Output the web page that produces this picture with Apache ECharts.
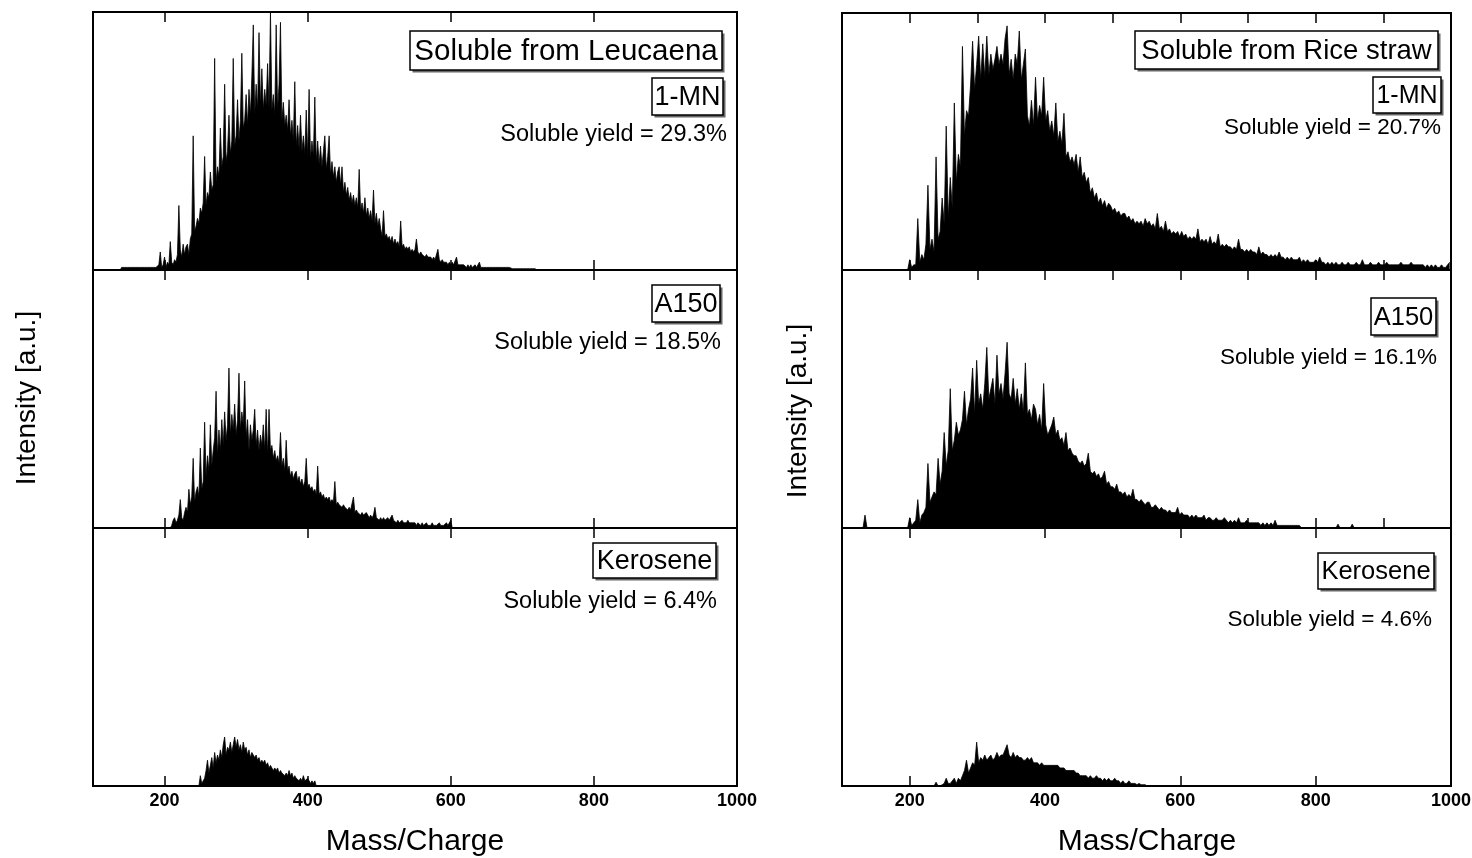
<!DOCTYPE html>
<html><head><meta charset="utf-8">
<script src="https://cdn.jsdelivr.net/npm/echarts@6/dist/echarts.min.js"></script>
<style>html,body{margin:0;padding:0;background:#fff}#c{width:1472px;height:858px}</style>
</head><body><div id="c"></div>
<script>
// ---------------- DATA (m/z grid: start + i*step; intensities in % of panel height) ----------------
const leucaena1MNStart = 138, leucaena1MNStep = 2;
const leucaena1MN = [0,
 1,1,1,1,1,1,1,1,1,1,1,1,1,1,1,1,1,1,1,1,1,1,1,1,1,1,
 2,7,1,2,5,1,3,2,11,3,
 2,4,3,6,25,8,5,10,6,9,
 10,6,12,14,52,15,17,20,18,24,
 22,26,44,25,30,28,38,31,33,82,
 34,40,36,55,40,44,72,42,46,60,
 45,50,82,48,52,66,50,58,84,55,
 58,68,56,70,60,75,95,60,72,62,
 92,64,78,62,70,64,80,63,100,62,
 68,60,95,62,72,96,58,65,56,60,
 54,66,52,58,50,73,48,56,47,60,
 46,52,45,62,44,70,43,50,44,67,
 42,50,41,48,40,46,52,39,44,52,
 37,42,36,40,34,38,40,33,40,30,
 34,29,32,27,30,26,29,25,28,24,
 39,23,26,22,28,21,24,20,23,19,
 31,18,22,17,20,16,13,23,13,14,
 12,13,11,13,10,12,10,11,9,19,
 9,10,8,9,8,9,7,8,7,8,
 12,7,6,7,6,6,5,6,5,5,
 5,4,5,4,4,8,4,3,4,3,
 3,3,2,3,2,3,2,2,5,2,
 2,2,2,2,2,1,2,1,2,1,
 1,2,1,1,3,1,1,1,1,1,
 1,1,1,1,1,1,1,1,1,1,
 1,1,0.5,1,0.5,1,0.5,0.5,1,0.5,
 0.5,0.5,0.5,0.5,0.5,0.5,0.5,0.5,1,0.5,0.5,0.5,0.5,0.5,0];

const leucaenaA150Start = 208, leucaenaA150Step = 2;
const leucaenaA150 = [0,
 1,3,4,2,3,5,11,4,3,6,
 8,6,15,9,12,27,10,14,16,12,
 31,15,18,41,20,28,22,40,24,30,
 35,53,28,38,30,42,32,45,34,40,
 62,36,44,38,48,36,42,60,38,45,
 40,57,35,42,30,40,34,38,46,32,
 38,30,36,32,40,30,46,28,46,30,
 32,27,30,26,28,25,37,24,27,22,
 34,22,24,20,22,19,21,22,18,20,
 17,19,16,18,27,16,17,15,16,14,
 15,13,24,13,14,12,13,11,12,11,
 12,10,11,10,18,9,10,9,9,8,
 9,8,8,7,8,7,7,12,6,7,
 6,6,5,6,5,5,6,5,4,5,
 4,5,8,4,4,3,4,3,4,3,
 3,4,3,3,5,3,3,2,3,2,
 2,3,2,2,2,3,2,2,2,2,
 2,1,2,2,1,2,1,1,2,1,
 1,1,2,1,1,1,1,2,1,1,
 1,1,2,1,1,3,0];

const leucaenaKeroseneStart = 248, leucaenaKeroseneStep = 2;
const leucaenaKerosene = [0,
 4,1,2,3,6,10,5,8,11,7,
 13,9,12,10,14,11,16,19,12,15,
 14,17,13,16,19,15,18,14,16,13,
 17,14,15,12,14,11,13,12,11,12,
 10,11,9,10,9,10,8,9,7,8,
 7,6,7,6,7,5,6,5,5,4,
 5,4,6,4,5,3,4,3,3,2,
 3,2,4,2,2,3,2,1,2,1,2,0];

const rice1MNStart = 197, rice1MNStep = 3;
const rice1MN = [
 0,4,1,2,2,20,3,6,4,10,
 33,8,12,7,44,12,15,28,18,56,
 20,36,24,65,34,45,40,87,52,62,
 60,72,89,70,80,91,74,88,75,91,
 76,84,78,82,87,80,84,80,90,95,
 76,82,74,84,80,93,74,80,86,60,
 56,66,56,75,58,64,60,75,58,62,
 54,58,52,65,50,54,49,61,44,46,
 42,44,41,45,38,44,36,38,34,36,
 30,32,28,30,26,28,25,27,24,26,
 25,23,24,22,23,21,22,22,20,21,
 19,20,18,19,18,19,17,20,18,19,
 17,18,16,22,16,17,15,19,15,16,
 14,15,14,15,13,15,13,14,12,13,
 12,13,12,16,11,12,11,12,10,13,
 10,11,10,14,9,10,9,10,9,9,
 8,9,8,12,8,8,7,8,7,8,
 7,7,6,9,6,7,6,6,5,6,
 5,6,5,7,5,5,4,5,4,5,
 4,4,4,5,3,4,3,4,3,3,
 3,4,3,5,3,3,2,3,2,3,
 2,3,2,2,3,2,2,3,2,2,
 2,3,2,2,4,2,2,2,3,2,
 2,2,3,2,2,2,3,2,2,2,
 2,2,2,3,2,2,2,2,3,2,
 2,2,2,2,2,1,2,1,2,1,
 2,1,1,2,1,1,2,3];

const riceA150Start = 131, riceA150Step = 3;
const riceA150 = [
 0,5,0,0,0,0,0,0,0,0,0,0,0,0,0,0,0,0,0,0,0,0,0,
 4,1,2,3,11,2,5,6,8,25,
 10,12,14,13,27,17,22,37,24,30,
 54,30,34,41,36,38,42,53,40,46,
 50,62,44,65,48,52,46,56,70,50,
 54,58,48,67,52,56,50,60,72,52,
 50,58,48,54,46,52,45,64,44,46,
 42,48,46,40,44,38,56,40,36,38,
 40,43,36,38,34,35,32,37,30,31,
 29,28,28,26,25,26,24,25,29,22,
 21,22,20,21,19,20,22,17,18,16,
 16,15,17,14,14,13,14,12,13,12,
 15,11,11,10,11,10,9,10,10,8,
 8,9,8,7,8,7,7,6,7,6,
 6,6,8,5,6,5,5,5,4,5,
 4,5,4,4,4,5,3,4,4,3,
 3,4,3,3,3,4,3,2,3,2,
 3,2,4,2,2,2,3,2,2,2,
 2,2,2,1,2,1,2,1,2,1,
 3,1,1,1,1,1,1,1,1,1,
 1,1,1,0,0,0,0,0,0,0,
 0,0,0,0,0,0,0,0,0,0,
 0,1.5,0,0,0,0,0,0,1.5,0];

const riceKeroseneStart = 236, riceKeroseneStep = 3;
const riceKerosene = [
 0,1.5,0,0,0.5,1,3,1,1,2,
 3,1,3,2,4,6,10,5,7,9,
 8,17,9,11,10,12,10,11,12,10,
 11,13,11,12,12,14,16,12,11,13,
 11,12,11,11,10,10,11,10,11,9,
 9,9,8,9,8,8,8,8,8,8,
 8,8,7,7,7,6,6,6,6,6,
 5,5,4,4,4,4,3,4,3,3,
 4,3,3,2,3,2,3,2,2,3,
 2,2,1,2,1,1,2,1,1,1,
 0.5,1,0.5,0.5,0.5,0];

const ticks200 = [200, 400, 600, 800];
const ticks100 = [200, 300, 400, 500, 600, 700, 800, 900];
const tickLabels = [200, 400, 600, 800, 1000];

const boxLabels = ['1-MN', 'A150', 'Kerosene', '1-MN', 'A150', 'Kerosene'];
const yieldTexts = ['Soluble yield = 29.3%', 'Soluble yield = 18.5%', 'Soluble yield = 6.4%',
                    'Soluble yield = 20.7%', 'Soluble yield = 16.1%', 'Soluble yield = 4.6%'];
const titles = ['Soluble from Leucaena', 'Soluble from Rice straw'];
const xName = 'Mass/Charge';
const yName = 'Intensity [a.u.]';

// ---------------- CHART ----------------
const FONT = "'Liberation Sans', Arial, sans-serif";
const toPairs = (start, step, vals) => vals.map((v, i) => [start + i * step, v]);
const panelsData = [
  toPairs(leucaena1MNStart, leucaena1MNStep, leucaena1MN),
  toPairs(leucaenaA150Start, leucaenaA150Step, leucaenaA150),
  toPairs(leucaenaKeroseneStart, leucaenaKeroseneStep, leucaenaKerosene),
  toPairs(rice1MNStart, rice1MNStep, rice1MN),
  toPairs(riceA150Start, riceA150Step, riceA150),
  toPairs(riceKeroseneStart, riceKeroseneStep, riceKerosene)
];

const gridBoxes = [
  {left: 93, top: 12, width: 644, height: 258},
  {left: 93, top: 270, width: 644, height: 258},
  {left: 93, top: 528, width: 644, height: 258},
  {left: 842, top: 13, width: 609, height: 257},
  {left: 842, top: 270, width: 609, height: 258},
  {left: 842, top: 528, width: 609, height: 258}
];
// [top ticks, bottom ticks]
const panelTicks = [
  [ticks200, ticks200], [ticks200, ticks200], [ticks200, ticks200],
  [ticks100, ticks100], [ticks100, ticks100], [ticks200, ticks200]
];

const grid = gridBoxes.map(g => Object.assign({
  show: true, borderColor: '#000', borderWidth: 2, backgroundColor: 'transparent',
  containLabel: false, outerBoundsMode: 'none'
}, g));

const xAxis = [];
const yAxis = [];
const series = [];
gridBoxes.forEach((g, i) => {
  const isBottom = (i === 2 || i === 5);
  ['bottom', 'top'].forEach(pos => {
    const tv = pos === 'top' ? panelTicks[i][0] : panelTicks[i][1];
    xAxis.push({
      type: 'value', gridIndex: i, position: pos, min: 100, max: 1000,
      axisLine: {show: false},
      splitLine: {show: false},
      axisTick: {show: true, inside: true, length: 10, customValues: tv,
                 lineStyle: {color: '#000', width: 1.5}},
      axisLabel: (pos === 'bottom' && isBottom) ? {
        show: true, customValues: tickLabels, color: '#000', fontFamily: FONT,
        fontSize: 18, fontWeight: 'bold', margin: 6, formatter: v => String(v)
      } : {show: false}
    });
  });
  yAxis.push({type: 'value', gridIndex: i, min: 0, max: 100, show: false});
  series.push({
    type: 'line', xAxisIndex: 2 * i, yAxisIndex: i, data: panelsData[i],
    showSymbol: false, symbol: 'none', animation: false, silent: true,
    lineStyle: {color: '#000', width: 0.8},
    areaStyle: {color: '#000', opacity: 1},
    z: 3
  });
});

// ---- annotations (boxes with shadow + text) ----
const graphic = [];
function boxed(text, x, y, w, h, fs) {
  graphic.push({type: 'rect', shape: {x: x + 2.5, y: y + 2.5, width: w, height: h},
    style: {fill: '#666'}, z: 10, silent: true});
  graphic.push({type: 'rect', shape: {x: x, y: y, width: w, height: h},
    style: {fill: '#fff', stroke: '#000', lineWidth: 1.5}, z: 11, silent: true});
  graphic.push({type: 'text', x: x + w / 2, y: y + h / 2 + 1,
    style: {text: text, fill: '#000', font: fs + 'px ' + FONT, align: 'center', verticalAlign: 'middle'},
    z: 12, silent: true});
}
function plain(text, xr, y, fs) {
  graphic.push({type: 'text', x: xr, y: y,
    style: {text: text, fill: '#000', font: fs + 'px ' + FONT, align: 'right', verticalAlign: 'middle'},
    z: 12, silent: true});
}
// Left column
boxed(titles[0], 410, 31, 312, 39, 29.5);
boxed(boxLabels[0], 652, 78, 71, 37, 27);
plain(yieldTexts[0], 727, 135, 23.5);
boxed(boxLabels[1], 652, 285, 68, 37, 27);
plain(yieldTexts[1], 721, 343, 23.5);
boxed(boxLabels[2], 593, 543, 123, 35, 27);
plain(yieldTexts[2], 717, 602, 23.5);
// Right column
boxed(titles[1], 1135, 31, 303, 38, 27.5);
boxed(boxLabels[3], 1373, 77, 68, 36, 25);
plain(yieldTexts[3], 1441, 128, 22.5);
boxed(boxLabels[4], 1371, 298, 65, 37, 25.5);
plain(yieldTexts[4], 1437, 358, 22.5);
boxed(boxLabels[5], 1318, 553, 116, 36, 25.5);
plain(yieldTexts[5], 1432, 620, 22.5);
// axis titles
graphic.push({type: 'text', x: 415, y: 842,
  style: {text: xName, fill: '#000', font: '30px ' + FONT, align: 'center', verticalAlign: 'middle'}, z: 12});
graphic.push({type: 'text', x: 1147, y: 842,
  style: {text: xName, fill: '#000', font: '30px ' + FONT, align: 'center', verticalAlign: 'middle'}, z: 12});
graphic.push({type: 'text', x: 27, y: 398, rotation: Math.PI / 2,
  style: {text: yName, fill: '#000', font: '28px ' + FONT, align: 'center', verticalAlign: 'middle'}, z: 12});
graphic.push({type: 'text', x: 798, y: 411, rotation: Math.PI / 2,
  style: {text: yName, fill: '#000', font: '28px ' + FONT, align: 'center', verticalAlign: 'middle'}, z: 12});

const chart = echarts.init(document.getElementById('c'), null, {renderer: 'canvas'});
chart.setOption({
  backgroundColor: '#fff',
  animation: false,
  grid: grid,
  xAxis: xAxis,
  yAxis: yAxis,
  series: series,
  graphic: graphic
});
</script>
</body></html>
